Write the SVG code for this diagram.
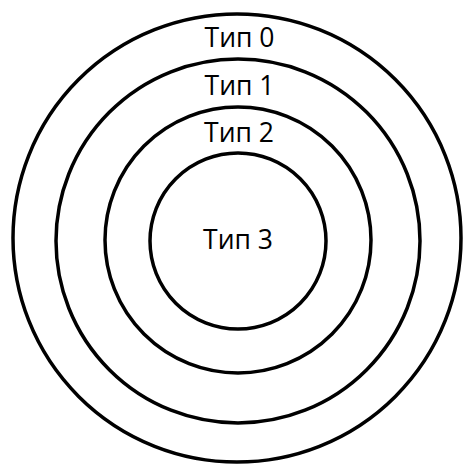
<svg xmlns="http://www.w3.org/2000/svg" width="463" height="465" viewBox="0 0 463 465">
<style>
.ring{fill:none;stroke:#000;stroke-width:3.5}
.lbl{font-family:"Open Sans","Noto Sans",sans-serif;font-size:26.5px;fill:#000;text-anchor:middle}
</style>
<rect width="463" height="465" fill="#fff"/>
<g id="type0"><circle class="ring" cx="237" cy="238" r="224"/><text class="lbl" x="239.5" y="47">Тип 0</text></g>
<g id="type1"><circle class="ring" cx="238" cy="241" r="182"/><text class="lbl" x="239.5" y="94.5">Тип 1</text></g>
<g id="type2"><circle class="ring" cx="238" cy="240" r="133"/><text class="lbl" x="239" y="141.5">Тип 2</text></g>
<g id="type3"><circle class="ring" cx="238" cy="241" r="88"/><text class="lbl" x="238" y="249">Тип 3</text></g>
<g id="connectors"/>
</svg>
